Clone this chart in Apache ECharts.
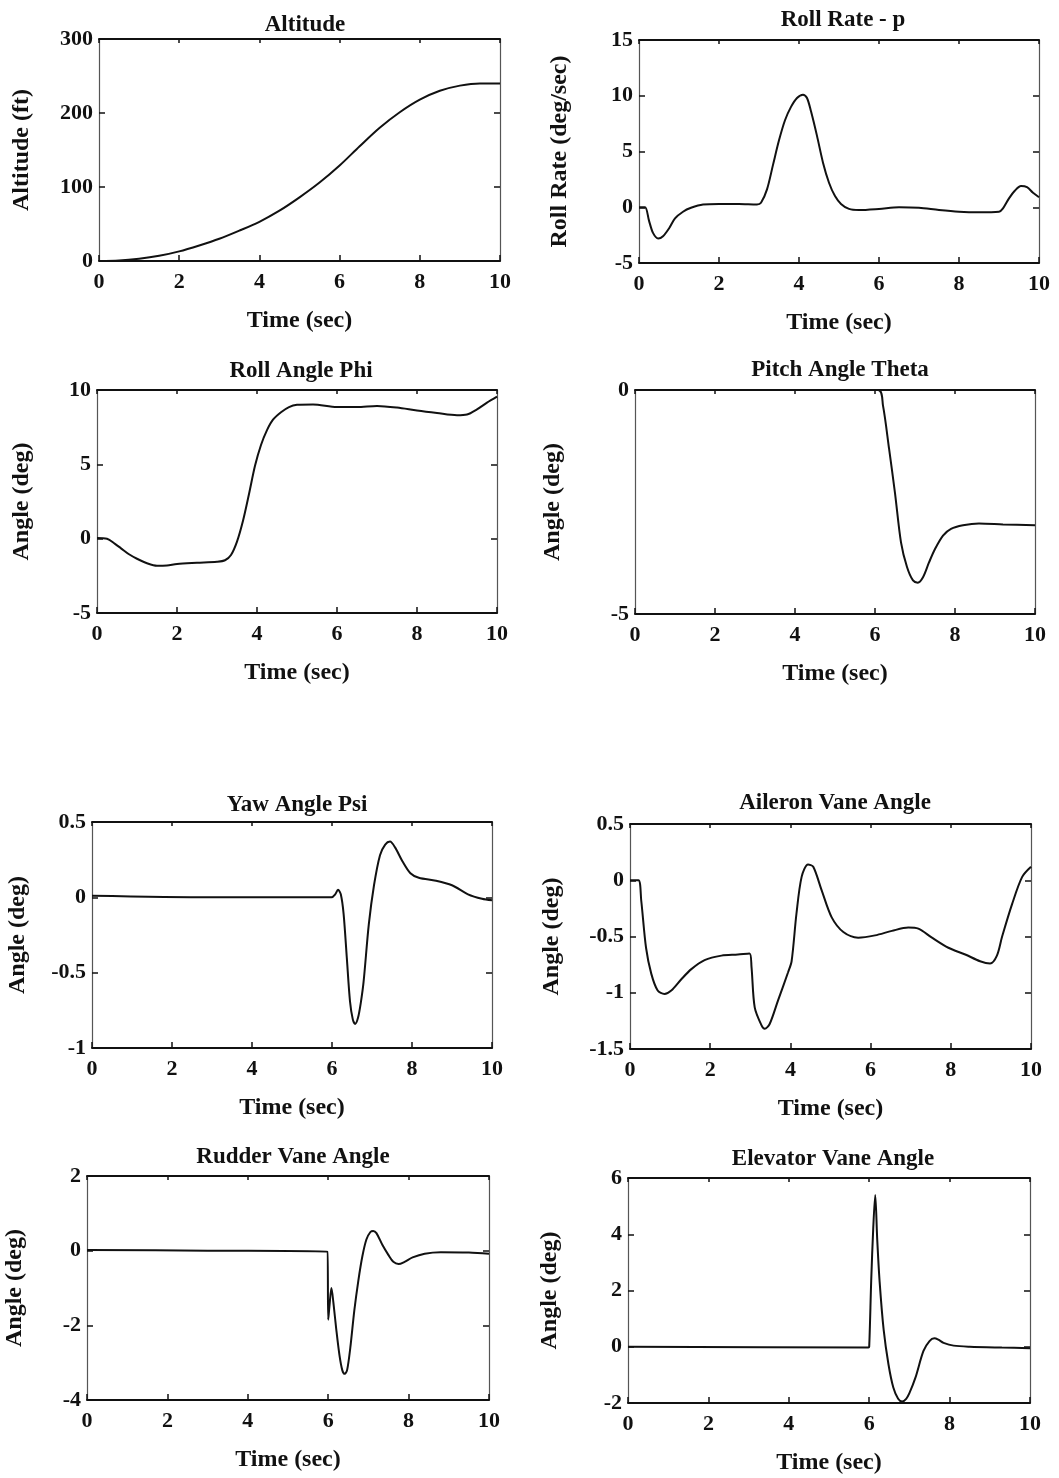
<!DOCTYPE html>
<html>
<head>
<meta charset="utf-8">
<title>Flight simulation responses</title>
<script src="https://cdn.jsdelivr.net/npm/echarts@6/dist/echarts.min.js"></script>
<style>
  html, body { margin: 0; padding: 0; background: #fff; }
  #chart { width: 1059px; height: 1478px; }
</style>
</head>
<body>
<div id="chart"></div>
<script>
// ---- Time histories (time in sec, value in axis units) ----
const altitudeT = [0, 0.5, 1, 1.5, 2, 2.5, 3, 3.5, 4, 4.5, 5, 5.5, 6, 6.5, 7, 7.5, 8, 8.5, 9, 9.5, 10];
const altitudeV = [0, 0.6, 3, 7, 13, 21, 30, 41, 53, 68, 86, 106, 129, 155, 180, 201, 218, 230, 237, 240, 240];

const rollRateT = [0, 0.15, 0.25, 0.35, 0.48, 0.6, 0.75, 0.9, 1.1, 1.3, 1.6, 2.0, 2.5, 2.95, 3.05, 3.2, 3.35, 3.5, 3.65, 3.8, 3.95, 4.1, 4.2, 4.3, 4.45, 4.6, 4.75, 4.9, 5.05, 5.25, 5.5, 6.0, 6.5, 7.0, 7.5, 8.0, 8.5, 9.0, 9.1, 9.25, 9.4, 9.55, 9.7, 9.85, 10];
const rollRateV = [0, 0, -1.2, -2.3, -2.8, -2.6, -1.9, -1.0, -0.4, -0.05, 0.25, 0.3, 0.3, 0.25, 0.4, 1.6, 3.8, 6.0, 7.8, 9.0, 9.8, 10.1, 9.8, 8.6, 6.4, 4.0, 2.2, 1.0, 0.3, -0.15, -0.25, -0.15, 0.0, -0.05, -0.25, -0.4, -0.45, -0.4, -0.1, 0.8, 1.5, 1.9, 1.8, 1.3, 0.9];

const rollAngleT = [0, 0.25, 0.45, 0.6, 0.8, 1.0, 1.25, 1.5, 1.75, 2.0, 2.5, 3.0, 3.2, 3.35, 3.5, 3.65, 3.8, 3.95, 4.1, 4.25, 4.4, 4.6, 4.8, 5.0, 5.4, 6.0, 6.5, 7.0, 7.5, 8.0, 8.5, 9.0, 9.25, 9.5, 9.75, 10];
const rollAngleV = [0.05, 0.0, -0.35, -0.65, -1.05, -1.35, -1.65, -1.82, -1.8, -1.7, -1.62, -1.55, -1.45, -1.1, -0.2, 1.2, 3.0, 4.9, 6.3, 7.3, 8.0, 8.5, 8.85, 9.0, 9.03, 8.85, 8.85, 8.93, 8.82, 8.62, 8.45, 8.3, 8.35, 8.7, 9.15, 9.55];

const pitchT = [0, 6.08, 6.2, 6.35, 6.5, 6.65, 6.8, 6.95, 7.07, 7.2, 7.35, 7.5, 7.7, 7.9, 8.2, 8.6, 9.2, 10];
const pitchV = [0, 0, -0.35, -1.3, -2.3, -3.4, -3.95, -4.25, -4.3, -4.18, -3.85, -3.55, -3.25, -3.1, -3.02, -2.98, -3.0, -3.02];

const yawT = [0, 3, 5.99, 6.08, 6.15, 6.22, 6.29, 6.37, 6.45, 6.52, 6.58, 6.65, 6.72, 6.79, 6.92, 7.05, 7.2, 7.33, 7.45, 7.58, 7.76, 7.96, 8.17, 8.6, 9.0, 9.4, 9.75, 10];
const yawV = [0.01, 0.0, 0.0, 0.02, 0.05, 0.02, -0.11, -0.4, -0.69, -0.81, -0.84, -0.8, -0.7, -0.56, -0.18, 0.08, 0.28, 0.35, 0.37, 0.33, 0.24, 0.16, 0.13, 0.11, 0.08, 0.02, -0.01, -0.02];

const aileronT = [0, 0.21, 0.28, 0.4, 0.53, 0.69, 0.86, 1.03, 1.28, 1.53, 1.86, 2.28, 2.69, 2.98, 3.03, 3.11, 3.28, 3.36, 3.48, 3.69, 3.94, 4.03, 4.15, 4.28, 4.44, 4.57, 4.78, 5.03, 5.32, 5.69, 6.11, 6.53, 6.94, 7.19, 7.53, 7.94, 8.36, 8.73, 8.98, 9.15, 9.28, 9.53, 9.78, 10];
const aileronV = [0, 0, -0.18, -0.6, -0.83, -0.98, -1.01, -0.98, -0.88, -0.79, -0.71, -0.67, -0.66, -0.65, -0.77, -1.13, -1.29, -1.32, -1.28, -1.07, -0.82, -0.72, -0.3, 0.03, 0.14, 0.12, -0.09, -0.33, -0.46, -0.51, -0.49, -0.45, -0.42, -0.43, -0.51, -0.6, -0.66, -0.72, -0.74, -0.67, -0.5, -0.21, 0.03, 0.12];

const rudderT = [0, 3, 5.98, 6.0, 6.03, 6.08, 6.13, 6.2, 6.28, 6.35, 6.41, 6.47, 6.55, 6.65, 6.75, 6.85, 6.95, 7.05, 7.12, 7.2, 7.35, 7.5, 7.62, 7.75, 7.9, 8.1, 8.4, 8.8, 9.5, 10];
const rudderV = [0.02, 0.0, -0.03, -1.85, -1.5, -1.0, -1.4, -2.1, -2.8, -3.2, -3.3, -3.2, -2.6, -1.6, -0.8, -0.15, 0.3, 0.5, 0.53, 0.47, 0.15, -0.12, -0.3, -0.36, -0.3, -0.18, -0.08, -0.04, -0.05, -0.08];

const elevatorT = [0, 5.98, 6.0, 6.05, 6.1, 6.15, 6.2, 6.26, 6.36, 6.48, 6.6, 6.72, 6.82, 6.92, 7.0, 7.15, 7.35, 7.5, 7.62, 7.72, 7.85, 8.1, 8.5, 9.3, 10];
const elevatorV = [0, -0.03, 0.0, 2.35, 4.2, 5.4, 3.8, 2.3, 0.6, -0.63, -1.45, -1.85, -1.95, -1.85, -1.65, -1.1, -0.15, 0.2, 0.3, 0.25, 0.14, 0.04, 0.0, -0.03, -0.05];

// ---- Axis tick settings ----
const timeTicks = { min: 0, max: 10, interval: 2 };
const altitudeTicks = { min: 0, max: 300, interval: 100 };
const rollRateTicks = { min: -5, max: 15, interval: 5 };
const rollAngleTicks = { min: -5, max: 10, interval: 5 };
const pitchTicks = { min: -5, max: 0, interval: 5 };
const yawTicks = { min: -1, max: 0.5, interval: 0.5 };
const aileronTicks = { min: -1.5, max: 0.5, interval: 0.5 };
const rudderTicks = { min: -4, max: 2, interval: 2 };
const elevatorTicks = { min: -2, max: 6, interval: 2 };

// ---- Panel layout: plot box [left, top, right, bottom], title centre/top, y-name centre x ----
const panels = [
  { title: 'Altitude', yName: 'Altitude (ft)', t: altitudeT, v: altitudeV, ticks: altitudeTicks,
    box: [99, 39, 500, 261], titleX: 300, titleTop: 9, yNameX: 22 },
  { title: 'Roll Rate - p', yName: 'Roll Rate (deg/sec)', t: rollRateT, v: rollRateV, ticks: rollRateTicks,
    box: [639, 40, 1039, 263], titleX: 838, titleTop: 4, yNameX: 560 },
  { title: 'Roll Angle Phi', yName: 'Angle (deg)', t: rollAngleT, v: rollAngleV, ticks: rollAngleTicks,
    box: [97, 390, 497, 613], titleX: 296, titleTop: 355, yNameX: 22 },
  { title: 'Pitch Angle Theta', yName: 'Angle (deg)', t: pitchT, v: pitchV, ticks: pitchTicks,
    box: [635, 390, 1035, 614], titleX: 835, titleTop: 354, yNameX: 553 },
  { title: 'Yaw Angle Psi', yName: 'Angle (deg)', t: yawT, v: yawV, ticks: yawTicks,
    box: [92, 822, 492, 1048], titleX: 292, titleTop: 789, yNameX: 18 },
  { title: 'Aileron Vane Angle', yName: 'Angle (deg)', t: aileronT, v: aileronV, ticks: aileronTicks,
    box: [630, 824, 1031, 1049], titleX: 830, titleTop: 787, yNameX: 552 },
  { title: 'Rudder Vane Angle', yName: 'Angle (deg)', t: rudderT, v: rudderV, ticks: rudderTicks,
    box: [87, 1176, 489, 1400], titleX: 288, titleTop: 1141, yNameX: 15 },
  { title: 'Elevator Vane Angle', yName: 'Angle (deg)', t: elevatorT, v: elevatorV, ticks: elevatorTicks,
    box: [628, 1178, 1030, 1403], titleX: 828, titleTop: 1143, yNameX: 550 }
];

const FONT = '"Liberation Serif", "DejaVu Serif", serif';
const INK = '#111';
const tickStyle = { fontFamily: FONT, fontWeight: 'bold', fontSize: 22, color: INK };
const nameStyle = { fontFamily: FONT, fontWeight: 'bold', fontSize: 24, color: INK };

const grid = [], xAxis = [], yAxis = [], series = [], title = [];

panels.forEach((p, i) => {
  const [L, T, R, B] = p.box;
  grid.push({ left: L, top: T, width: R - L, height: B - T, containLabel: false });

  title.push({
    text: p.title, left: p.titleX, top: p.titleTop, textAlign: 'center',
    textStyle: { fontFamily: FONT, fontWeight: 'bold', fontSize: 23, color: INK }
  });

  const frameH = { show: true, onZero: false, lineStyle: { color: INK, width: 2 } };
  const frameV = { show: true, onZero: false, lineStyle: { color: '#555', width: 1.2 } };
  const tick = { show: true, inside: true, length: 6, lineStyle: { color: INK, width: 1.5 } };

  // bottom time axis with labels and name, top mirror with ticks only
  xAxis.push({
    type: 'value', gridIndex: i, position: 'bottom', ...timeTicks,
    axisLine: frameH, axisTick: tick, splitLine: { show: false },
    axisLabel: { ...tickStyle, margin: 10 },
    name: 'Time (sec)', nameLocation: 'middle', nameGap: 48, nameTextStyle: nameStyle
  });
  xAxis.push({
    type: 'value', gridIndex: i, position: 'top', ...timeTicks,
    axisLine: frameH, axisTick: { ...tick, length: 4 }, axisLabel: { show: false }, splitLine: { show: false }
  });

  // left value axis with labels and name, right mirror with ticks only
  yAxis.push({
    type: 'value', gridIndex: i, position: 'left', ...p.ticks,
    axisLine: frameV, axisTick: tick, splitLine: { show: false },
    axisLabel: { ...tickStyle, margin: 6 },
    name: p.yName, nameLocation: 'middle', nameRotate: 90,
    nameGap: L - p.yNameX - 12, nameTextStyle: nameStyle
  });
  yAxis.push({
    type: 'value', gridIndex: i, position: 'right', ...p.ticks,
    axisLine: frameV, axisTick: tick, axisLabel: { show: false }, splitLine: { show: false }
  });

  series.push({
    type: 'line', xAxisIndex: 2 * i, yAxisIndex: 2 * i,
    data: p.t.map((t, k) => [t, p.v[k]]),
    showSymbol: false, smooth: 0.3,
    lineStyle: { color: INK, width: 2 }, animation: false
  });
});

const chart = echarts.init(document.getElementById('chart'), null, { renderer: 'canvas' });
chart.setOption({ animation: false, backgroundColor: '#fff', title, grid, xAxis, yAxis, series });
</script>
</body>
</html>
